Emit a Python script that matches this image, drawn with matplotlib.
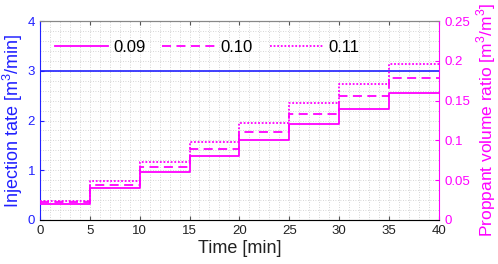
import matplotlib
matplotlib.use("Agg")
import matplotlib.pyplot as plt
from matplotlib.ticker import MultipleLocator
import numpy as np

plt.rcParams['font.family'] = ['Liberation Sans', 'DejaVu Sans']
plt.rcParams['mathtext.fontset'] = 'custom'
plt.rcParams['mathtext.rm'] = 'Liberation Sans'

time_edges = [0, 5, 10, 15, 20, 25, 30, 35, 40]
rate_time = [0, 40]
rate_values = [3, 3]
ratio_009 = [0.02, 0.04, 0.06, 0.08, 0.10, 0.12, 0.14, 0.16]
ratio_010 = [0.0222, 0.0444, 0.0667, 0.0889, 0.111, 0.133, 0.156, 0.178]
ratio_011 = [0.0244, 0.0489, 0.0733, 0.0978, 0.122, 0.147, 0.171, 0.196]
labels = ['0.09', '0.10', '0.11']
styles = ['-', (0, (5, 3)), (0, (1, 1))]

blue = '#2020ff'
mag = '#ff00ff'

fig = plt.figure(figsize=(4.98, 2.64), dpi=100)
ax = fig.add_axes([40/498, 1 - 220/264, (438.7-40)/498, (220-21)/264])
ax.plot(rate_time, rate_values, color=blue, lw=1.2)
ax.set_xlim(0, 40)
ax.set_ylim(0, 4)
ax.xaxis.set_major_locator(MultipleLocator(5))
ax.xaxis.set_minor_locator(MultipleLocator(1))
ax.yaxis.set_major_locator(MultipleLocator(1))
ax.yaxis.set_minor_locator(MultipleLocator(0.2))
ax.grid(True, which='both', color='#c8c8c8', linestyle=(0, (1, 2)), lw=0.6)
ax.set_axisbelow(True)
ax.tick_params(axis='both', which='minor', length=0)
ax.tick_params(axis='x', direction='in', length=3, colors='#555555', labelsize=9.5, labelcolor='#222222', top=True)
ax.tick_params(axis='y', direction='in', length=3, colors=blue, labelsize=9.5)
ax.spines['left'].set_color(blue)
ax.spines['top'].set_color('#888888')
ax.spines['bottom'].set_color('#888888')
ax.spines['right'].set_visible(False)
ax.set_xlabel('Time [min]', fontsize=13, color='#222222', labelpad=2)
ax.set_ylabel('Injection tate [m$^3$/min]', fontsize=13, color=blue, labelpad=2)

ax2 = ax.twinx()
for vals, lab, ls in zip([ratio_009, ratio_010, ratio_011], labels, styles):
    y = list(vals) + [vals[-1]]
    ax2.step(time_edges, y, where='post', color=mag, lw=1.3, ls=ls, label=lab)
ax2.set_ylim(0, 0.25)
ax2.set_yticks([0, 0.05, 0.1, 0.15, 0.2, 0.25])
ax2.set_yticklabels(['0', '0.05', '0.1', '0.15', '0.2', '0.25'])
ax2.tick_params(axis='y', direction='in', length=3, colors=mag, labelsize=9.5, pad=4)
ax2.spines['right'].set_color(mag)
ax2.spines['left'].set_visible(False)
ax2.spines['top'].set_color('#888888')
ax2.set_ylabel('Proppant volume ratio [m$^3$/m$^3$]', fontsize=12.5, color=mag, labelpad=3)
leg = ax2.legend(loc='upper left', ncol=3, frameon=False, fontsize=12,
                 bbox_to_anchor=(0.0, 0.98), handlelength=3.2, columnspacing=1.0, handletextpad=0.3)

fig.savefig('out.png', dpi=100)
